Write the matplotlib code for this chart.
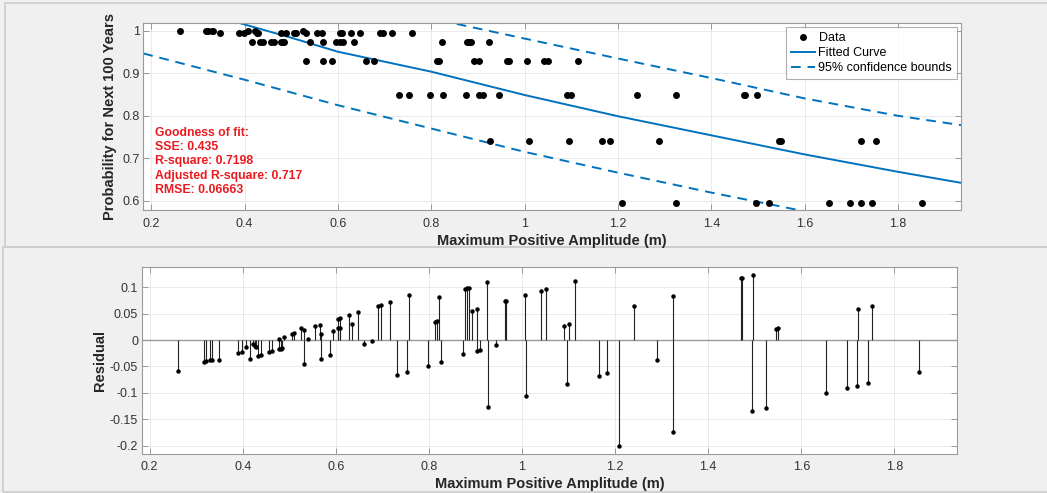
import numpy as np
import matplotlib.pyplot as plt
from matplotlib.patches import Rectangle
from matplotlib.ticker import FuncFormatter

plt.rcParams['font.family'] = ['Liberation Sans', 'DejaVu Sans']

# data
amplitude = [0.262, 0.317, 0.321, 0.330, 0.333, 0.348,
             0.389, 0.398, 0.408, 0.415, 0.422, 0.426, 0.429, 0.433, 0.439,
             0.456, 0.462, 0.477, 0.479, 0.482, 0.485, 0.488,
             0.506, 0.511, 0.525, 0.531, 0.531, 0.540,
             0.555, 0.565, 0.569, 0.569, 0.588, 0.595,
             0.604, 0.605, 0.608, 0.610, 0.629, 0.634, 0.647,
             0.661, 0.678, 0.690, 0.696, 0.716, 0.731, 0.752, 0.758,
             0.797, 0.812, 0.817, 0.822, 0.826,
             0.874, 0.877, 0.881, 0.886, 0.892, 0.903, 0.903, 0.910,
             0.924, 0.926, 0.945, 0.963, 0.966,
             1.006, 1.009, 1.041, 1.051, 1.090, 1.096, 1.100, 1.114,
             1.165, 1.183, 1.209, 1.240, 1.289, 1.324, 1.324,
             1.470, 1.472, 1.495, 1.497, 1.524, 1.546, 1.550,
             1.653, 1.698, 1.720, 1.721, 1.744, 1.752, 1.852]

probability = [1.0, 1.0, 1.0, 1.0, 1.0, 0.995,
               0.995, 0.995, 1.0, 0.975, 1.0, 0.995, 0.995, 0.975, 0.975,
               0.975, 0.975, 0.975, 0.995, 0.975, 0.975, 0.995,
               0.995, 0.995, 1.0, 0.995, 0.93, 0.975,
               0.995, 0.995, 0.975, 0.93, 0.93, 0.975,
               0.995, 0.975, 0.995, 0.975, 0.995, 0.975, 0.995,
               0.93, 0.93, 0.995, 0.995, 0.995, 0.85, 0.85, 0.995,
               0.85, 0.93, 0.93, 0.975, 0.85,
               0.85, 0.975, 0.975, 0.975, 0.93, 0.93, 0.85, 0.85,
               0.975, 0.74, 0.85, 0.93, 0.93,
               0.93, 0.74, 0.93, 0.93, 0.85, 0.74, 0.85, 0.93,
               0.74, 0.74, 0.595, 0.85, 0.74, 0.85, 0.595,
               0.85, 0.85, 0.595, 0.85, 0.595, 0.74, 0.74,
               0.595, 0.595, 0.595, 0.74, 0.595, 0.74, 0.595]

residual = [-0.059, -0.041, -0.040, -0.037, -0.037, -0.037,
            -0.024, -0.022, -0.013, -0.035, -0.008, -0.011, -0.014, -0.030, -0.029,
            -0.023, -0.021, -0.017, 0.003, -0.016, -0.015, 0.006,
            0.011, 0.013, 0.023, 0.019, -0.046, 0.002,
            0.027, 0.028, 0.011, -0.035, -0.029, 0.018,
            0.040, 0.022, 0.041, 0.023, 0.047, 0.030, 0.053,
            -0.008, -0.002, 0.065, 0.067, 0.073, -0.067, -0.060, 0.085,
            -0.049, 0.035, 0.036, 0.082, -0.041,
            -0.027, 0.097, 0.098, 0.099, 0.056, 0.058, -0.020, -0.018,
            0.110, -0.127, -0.010, 0.074, 0.075,
            0.085, -0.106, 0.094, 0.097, 0.027, -0.084, 0.030, 0.112,
            -0.068, -0.063, -0.201, 0.064, -0.038, 0.083, -0.174,
            0.117, 0.117, -0.135, 0.123, -0.128, 0.021, 0.022,
            -0.101, -0.091, -0.087, 0.058, -0.082, 0.064, -0.060]

# fitted curve and 95% bounds
fit_x = [0.388, 0.5, 0.6, 0.8, 1.0, 1.2, 1.4, 1.6, 1.8, 1.935]
fit_y = [1.019, 0.984, 0.951, 0.904, 0.849, 0.799, 0.754, 0.709, 0.668, 0.642]
upper_x = [0.82, 0.844, 1.0, 1.2, 1.4, 1.6, 1.8, 1.935]
upper_y = [1.025, 1.019, 0.982, 0.935, 0.889, 0.841, 0.800, 0.778]
lower_x = [0.183, 0.4, 0.6, 0.8, 1.0, 1.2, 1.4, 1.6]
lower_y = [0.947, 0.885, 0.825, 0.770, 0.715, 0.666, 0.619, 0.575]

gof_text = ("Goodness of fit:\nSSE: 0.435\nR-square: 0.7198\n"
            "Adjusted R-square: 0.717\nRMSE: 0.06663")

blue = '#0072BD'
fmt = FuncFormatter(lambda v, p: '%g' % round(v, 3))

fig = plt.figure(figsize=(10.47, 4.93), dpi=100, facecolor='#f0f0f0')
W, H = 1047.0, 493.0

# panel frames, drawn underneath everything else
fig.add_artist(Rectangle((5 / W, 1 - 247 / H), 1.2, 244 / H, transform=fig.transFigure,
                         fill=False, ec='#cccccc', lw=1.2, zorder=-5))
fig.add_artist(Rectangle((3 / W, 1 - 492 / H), 1.2, 245 / H, transform=fig.transFigure,
                         fill=False, ec='#cccccc', lw=1.2, zorder=-5))


def style(ax):
    ax.set_facecolor('white')
    ax.grid(True, color='#e6e6e6', lw=0.6)
    ax.set_axisbelow(True)
    for s in ax.spines.values():
        s.set_color('#9a9a9a')
        s.set_linewidth(0.8)
    ax.tick_params(direction='in', length=4.5, width=0.6, color='#8a8a8a',
                   labelcolor='#333333', labelsize=9, top=True, right=True)
    ax.tick_params(axis='x', pad=5.5)
    ax.tick_params(axis='y', pad=2.5)
    ax.xaxis.set_major_formatter(fmt)
    ax.yaxis.set_major_formatter(fmt)
    ax.set_xlim(0.183, 1.935)
    ax.set_xticks(np.arange(0.2, 1.81, 0.2))


# top: fit
ax1 = fig.add_axes([143.3 / W, 1 - 210 / H, 817.7 / W, 186.7 / H])
style(ax1)
ax1.plot(amplitude, probability, 'o', color='k', ms=5, mew=0, label='Data', zorder=3)
ax1.plot(fit_x, fit_y, color=blue, lw=1.4, label='Fitted Curve')
ax1.plot(upper_x, upper_y, color=blue, lw=1.4, ls=(0, (5, 3.5)), label='95% confidence bounds')
ax1.plot(lower_x, lower_y, color=blue, lw=1.4, ls=(0, (5, 3.5)))
ax1.set_ylim(0.578, 1.018)
ax1.set_yticks([0.6, 0.7, 0.8, 0.9, 1.0])
ax1.set_xlabel('Maximum Positive Amplitude (m)', fontsize=10.5, fontweight='bold', color='#262626')
ax1.set_ylabel('Probability for Next 100 Years', fontsize=10.5, fontweight='bold', color='#262626')
ax1.xaxis.set_label_coords(0.5, -0.127)
ax1.yaxis.set_label_coords(-0.032, 0.5)
ax1.text(0.0143, 0.447, gof_text, transform=ax1.transAxes, color='#ea1a1f', fontsize=8.8,
         fontweight='bold', va='top', ha='left', linespacing=1.27)
leg = ax1.legend(loc='upper right', fontsize=9, fancybox=False, edgecolor='#9a9a9a',
                 borderaxespad=0.3, handlelength=1.9, labelspacing=0.25, borderpad=0.4,
                 handletextpad=0.3, numpoints=1)
leg.get_frame().set_linewidth(0.8)

# bottom: residuals
ax2 = fig.add_axes([141.7 / W, 1 - 453.5 / H, 815.6 / W, 186.2 / H])
style(ax2)
ax2.axhline(0, color='#9a9a9a', lw=1.0, zorder=1)
ax2.vlines(amplitude, 0, residual, colors='#222222', lw=0.8, zorder=2)
ax2.plot(amplitude, residual, 'o', color='k', ms=3.2, mew=0, zorder=3)
ax2.set_ylim(-0.215, 0.138)
ax2.set_yticks([-0.2, -0.15, -0.1, -0.05, 0, 0.05, 0.1])
ax2.set_xlabel('Maximum Positive Amplitude (m)', fontsize=10.5, fontweight='bold', color='#262626')
ax2.set_ylabel('Residual', fontsize=10.5, fontweight='bold', color='#262626')
ax2.xaxis.set_label_coords(0.5, -0.125)
ax2.yaxis.set_label_coords(-0.043, 0.5)

fig.savefig('out.png', dpi=100, facecolor=fig.get_facecolor())
